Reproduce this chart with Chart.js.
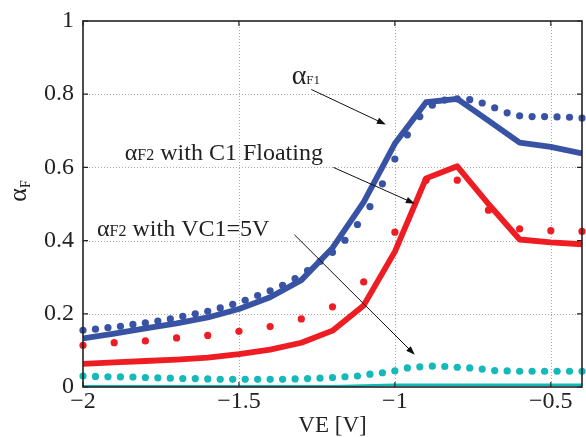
<!DOCTYPE html>
<html><head><meta charset="utf-8">
<script src="https://cdn.jsdelivr.net/npm/chart.js@4"></script>
<style>html,body{margin:0;padding:0;background:#fff}</style>
</head><body>
<canvas id="c" width="586" height="437"></canvas>
<script>
// ---- data ----
const xTicks = [-2, -1.5, -1, -0.5];
const yTicks = [0, 0.2, 0.4, 0.6, 0.8, 1];

const xCoarse = [-2.0, -1.9, -1.8, -1.7, -1.6, -1.5, -1.4, -1.3, -1.2, -1.1, -1.0, -0.9, -0.8, -0.7, -0.6, -0.5, -0.4];
const xFine = [-2.00, -1.96, -1.92, -1.88, -1.84, -1.80, -1.76, -1.72, -1.68, -1.64, -1.60, -1.56, -1.52, -1.48,
               -1.44, -1.40, -1.36, -1.32, -1.28, -1.24, -1.20, -1.16, -1.12, -1.08, -1.04, -1.00, -0.96, -0.92,
               -0.88, -0.84, -0.80, -0.76, -0.72, -0.68, -0.64, -0.60, -0.56, -0.52, -0.48, -0.44, -0.40];

const aF1Solid = [0.133, 0.146, 0.160, 0.174, 0.190, 0.213, 0.245, 0.292, 0.380, 0.505, 0.665, 0.778, 0.787, 0.728, 0.668, 0.656, 0.638];
const aF1Dots = [0.155, 0.158, 0.162, 0.166, 0.171, 0.175, 0.180, 0.186, 0.193, 0.200, 0.207, 0.216, 0.226, 0.237,
                 0.250, 0.263, 0.278, 0.296, 0.318, 0.343, 0.368, 0.401, 0.444, 0.493, 0.555, 0.623, 0.689, 0.739,
                 0.770, 0.784, 0.787, 0.785, 0.776, 0.763, 0.749, 0.741, 0.739, 0.739, 0.738, 0.737, 0.735];

const aF2FloatSolid = [0.063, 0.067, 0.071, 0.075, 0.080, 0.090, 0.102, 0.121, 0.154, 0.223, 0.370, 0.570, 0.603, 0.500, 0.403, 0.395, 0.390];
const aF2FloatDots = [0.114, 0.121, 0.126, 0.134, 0.141, 0.152, 0.165, 0.186, 0.219, 0.287, 0.423, 0.565, 0.565, 0.483, 0.432, 0.427, 0.425];

const aF2VC1Solid = [0.002, 0.002, 0.002, 0.002, 0.002, 0.002, 0.002, 0.002, 0.002, 0.004, 0.006, 0.006, 0.006, 0.006, 0.006, 0.006, 0.006];
const aF2VC1Dots = [0.030, 0.029, 0.028, 0.0275, 0.027, 0.026, 0.025, 0.024, 0.023, 0.023, 0.022, 0.021, 0.021, 0.021,
                    0.021, 0.021, 0.021, 0.022, 0.023, 0.024, 0.026, 0.028, 0.030, 0.035, 0.039, 0.044, 0.052, 0.055,
                    0.057, 0.056, 0.054, 0.052, 0.049, 0.045, 0.044, 0.043, 0.043, 0.043, 0.043, 0.043, 0.043];

// ---- styles ----
const FONT = '"Liberation Serif", "Times New Roman", serif';
const BLUE = '#3953a4', RED = '#ee1d24', CYAN = '#14b9b9';

const pts = (xs, ys) => xs.map((x, i) => ({x, y: ys[i]}));

const labels = [
  {x: -1.331, y: 0.827, parts: [['α', 28], ['F1', 13]]},
  {x: -1.866, y: 0.619, parts: [['α', 24], ['F2', 16], [' with C1 Floating', 24]]},
  {x: -1.955, y: 0.413, parts: [['α', 24], ['F2', 16], [' with VC1=5V', 24]]}
];
const arrows = [
  {from: [-1.268, 0.813], to: [-1.029, 0.717]},
  {from: [-1.197, 0.600], to: [-0.936, 0.501]},
  {from: [-1.322, 0.416], to: [-0.936, 0.088]}
];

const decor = {
  id: 'decor',
  beforeDatasetsDraw(chart) {
    const {ctx, chartArea: a, scales: {x, y}} = chart;
    ctx.save();
    ctx.strokeStyle = '#a8a8a8'; ctx.lineWidth = 1; ctx.setLineDash([1, 2]);
    xTicks.forEach(v => {
      const p = Math.round(x.getPixelForValue(v)) + 0.5;
      if (p > a.left + 2 && p < a.right - 2) { ctx.beginPath(); ctx.moveTo(p, a.top); ctx.lineTo(p, a.bottom); ctx.stroke(); }
    });
    yTicks.forEach(v => {
      const p = Math.round(y.getPixelForValue(v)) + 0.5;
      if (p > a.top + 2 && p < a.bottom - 2) { ctx.beginPath(); ctx.moveTo(a.left, p); ctx.lineTo(a.right, p); ctx.stroke(); }
    });
    ctx.restore();
  },
  afterDatasetsDraw(chart) {
    const {ctx, chartArea: a, scales: {x, y}} = chart;
    ctx.save();
    // frame
    ctx.strokeStyle = '#222'; ctx.lineWidth = 1.6; ctx.setLineDash([]);
    ctx.strokeRect(a.left, a.top, a.right - a.left, a.bottom - a.top);
    // inward ticks
    ctx.lineWidth = 1.2;
    const tl = 5;
    xTicks.forEach(v => {
      const p = x.getPixelForValue(v);
      ctx.beginPath(); ctx.moveTo(p, a.bottom); ctx.lineTo(p, a.bottom - tl);
      ctx.moveTo(p, a.top); ctx.lineTo(p, a.top + tl); ctx.stroke();
    });
    yTicks.forEach(v => {
      const p = y.getPixelForValue(v);
      ctx.beginPath(); ctx.moveTo(a.left, p); ctx.lineTo(a.left + tl, p);
      ctx.moveTo(a.right, p); ctx.lineTo(a.right - tl, p); ctx.stroke();
    });
    // arrows
    ctx.strokeStyle = '#111'; ctx.fillStyle = '#111'; ctx.lineWidth = 1;
    arrows.forEach(ar => {
      const x0 = x.getPixelForValue(ar.from[0]), y0 = y.getPixelForValue(ar.from[1]);
      const x1 = x.getPixelForValue(ar.to[0]), y1 = y.getPixelForValue(ar.to[1]);
      const ang = Math.atan2(y1 - y0, x1 - x0);
      const L = 9, W = 3.2;
      ctx.beginPath(); ctx.moveTo(x0, y0);
      ctx.lineTo(x1 - L * 0.6 * Math.cos(ang), y1 - L * 0.6 * Math.sin(ang)); ctx.stroke();
      ctx.beginPath();
      ctx.moveTo(x1, y1);
      ctx.lineTo(x1 - L * Math.cos(ang) + W * Math.sin(ang), y1 - L * Math.sin(ang) - W * Math.cos(ang));
      ctx.lineTo(x1 - L * Math.cos(ang) - W * Math.sin(ang), y1 - L * Math.sin(ang) + W * Math.cos(ang));
      ctx.closePath(); ctx.fill();
    });
    // labels
    ctx.fillStyle = '#222'; ctx.textBaseline = 'alphabetic'; ctx.textAlign = 'left';
    labels.forEach(lb => {
      let px = x.getPixelForValue(lb.x);
      const py = y.getPixelForValue(lb.y);
      lb.parts.forEach(([t, s]) => {
        ctx.font = s + 'px ' + FONT;
        ctx.fillText(t, px, py);
        px += ctx.measureText(t).width;
      });
    });
    // y title
    ctx.save();
    ctx.translate(26, 191);
    ctx.rotate(-Math.PI / 2);
    ctx.font = '26px ' + FONT;
    const wA = ctx.measureText('α').width;
    ctx.font = '14px ' + FONT;
    const wF = ctx.measureText('F').width;
    let sx = -(wA + wF) / 2;
    ctx.font = '26px ' + FONT; ctx.fillText('α', sx, 0);
    ctx.font = '14px ' + FONT; ctx.fillText('F', sx + wA, 4);
    ctx.restore();
    // x title
    ctx.font = '23px ' + FONT; ctx.textAlign = 'center';
    ctx.fillText('VE [V]', (a.left + a.right) / 2, 432);
    ctx.restore();
  }
};

const fmt = v => String(v).replace('-', '\u2212');

new Chart(document.getElementById('c'), {
  type: 'scatter',
  data: {
    datasets: [
      {data: pts(xCoarse, aF1Solid), showLine: true, borderColor: BLUE, borderWidth: 5.8, pointRadius: 0, order: 1},
      {data: pts(xCoarse, aF2FloatSolid), showLine: true, borderColor: RED, borderWidth: 5.8, pointRadius: 0, order: 2},
      {data: pts(xCoarse, aF2VC1Solid), showLine: true, borderColor: CYAN, borderWidth: 2.5, pointRadius: 0, order: 3},
      {data: pts(xFine, aF1Dots), showLine: false, backgroundColor: BLUE, borderWidth: 0, pointRadius: 3.6, order: 4, clip: 5},
      {data: pts(xCoarse, aF2FloatDots), showLine: false, backgroundColor: RED, borderWidth: 0, pointRadius: 3.6, order: 5, clip: 5},
      {data: pts(xFine, aF2VC1Dots), showLine: false, backgroundColor: CYAN, borderWidth: 0, pointRadius: 3.6, order: 6, clip: 5}
    ]
  },
  options: {
    responsive: false, animation: false,
    layout: {padding: {top: 0, right: 1, left: 0, bottom: 0}},
    plugins: {legend: {display: false}, tooltip: {enabled: false}},
    elements: {line: {tension: 0, borderJoinStyle: 'round'}},
    scales: {
      x: {
        type: 'linear', min: -2, max: -0.4,
        grid: {display: false, drawTicks: false}, border: {display: false},
        afterBuildTicks: s => { s.ticks = xTicks.map(v => ({value: v})); },
        afterFit: s => { s.height = 50; },
        ticks: {color: '#222', padding: 3, maxRotation: 0, font: {family: FONT, size: 24, lineHeight: 1}, callback: v => fmt(v)}
      },
      y: {
        type: 'linear', min: 0, max: 1,
        grid: {display: false, drawTicks: false}, border: {display: false},
        afterBuildTicks: s => { s.ticks = yTicks.map(v => ({value: v})); },
        afterFit: s => { s.width = 83; },
        ticks: {color: '#222', padding: 9, font: {family: FONT, size: 24, lineHeight: 1}, callback: v => fmt(v)}
      }
    }
  },
  plugins: [decor]
});
</script>
</body></html>
